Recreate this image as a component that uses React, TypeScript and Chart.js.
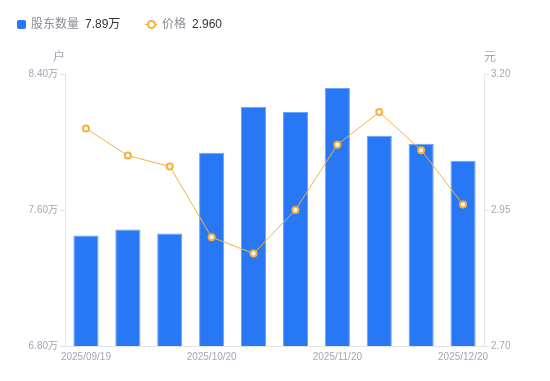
import React, { useEffect, useRef } from "react";
import { Chart, registerables } from "chart.js";

Chart.register(...registerables);

const dates = [
  "2025/09/19", "2025/09/30", "2025/10/10", "2025/10/20", "2025/10/31",
  "2025/11/10", "2025/11/20", "2025/11/30", "2025/12/10", "2025/12/20",
];
const holders = [7.45, 7.486, 7.462, 7.937, 8.207, 8.177, 8.318, 8.037, 7.99, 7.89];
const prices = [3.10, 3.05, 3.03, 2.90, 2.87, 2.95, 3.07, 3.13, 3.06, 2.96];
const leftTicks = [6.8, 7.6, 8.4];
const rightTicks = [2.7, 2.95, 3.2];

const BLUE = "#2878f5";
const ORANGE = "#f8b03c";
const TICK = "#a3a6b4";
const AXIS = "#e3e4e8";
const FONT = "Arial, 'Liberation Sans', 'Noto Sans CJK SC', sans-serif";

export default function App() {
  const ref = useRef<HTMLCanvasElement | null>(null);
  useEffect(() => {
    const ctx = ref.current!;
    const chart = new Chart(ctx, {
      type: "bar",
      data: {
        labels: dates,
        datasets: [
          {
            type: "line",
            label: "价格",
            data: prices,
            yAxisID: "y1",
            borderColor: ORANGE,
            borderWidth: 1,
            pointRadius: 3,
            pointBorderWidth: 2,
            pointBackgroundColor: "#ffffff",
            pointBorderColor: ORANGE,
            tension: 0,
            order: 0,
          } as any,
          {
            type: "bar",
            label: "股东数量",
            data: holders,
            yAxisID: "y",
            backgroundColor: BLUE,
            borderColor: "#6aa3fa",
            borderWidth: { top: 1, left: 1, right: 1, bottom: 0 },
            barPercentage: 0.6,
            categoryPercentage: 1,
            order: 1,
          } as any,
        ],
      },
      options: {
        animation: false,
        responsive: false,
        layout: { padding: { top: 74, bottom: 0, left: 0, right: 0 } },
        plugins: { legend: { display: false }, tooltip: { enabled: false } },
        scales: {
          x: {
            grid: { display: false, drawTicks: false },
            border: { color: AXIS },
            ticks: {
              autoSkip: false,
              maxRotation: 0,
              color: TICK,
              font: { size: 10, family: FONT },
              padding: 5,
              callback: (_v: any, i: number) => (i % 3 === 0 ? dates[i] : ""),
            },
            afterFit: (s: any) => { s.height = 35; },
          },
          y: {
            position: "left",
            min: 6.8,
            max: 8.4,
            afterBuildTicks: (s: any) => { s.ticks = leftTicks.map((v) => ({ value: v })); },
            grid: { drawOnChartArea: false, drawTicks: true, tickLength: 5, color: AXIS },
            border: { color: AXIS },
            ticks: {
              color: TICK,
              font: { size: 10, family: FONT },
              padding: 2,
              callback: (v: any) => Number(v).toFixed(2) + "万",
            },
            afterFit: (s: any) => { s.width = 65; },
          },
          y1: {
            position: "right",
            min: 2.7,
            max: 3.2,
            afterBuildTicks: (s: any) => { s.ticks = rightTicks.map((v) => ({ value: v })); },
            grid: { drawOnChartArea: false, drawTicks: true, tickLength: 5, color: AXIS },
            border: { color: AXIS },
            ticks: {
              color: TICK,
              font: { size: 10, family: FONT },
              padding: 2,
              callback: (v: any) => Number(v).toFixed(2),
            },
            afterFit: (s: any) => { s.width = 66; },
          },
        },
      } as any,
    });
    return () => chart.destroy();
  }, []);

  const txt: React.CSSProperties = {
    position: "absolute",
    fontFamily: FONT,
    fontSize: 12,
    lineHeight: "14px",
    whiteSpace: "nowrap",
  };

  return (
    <div style={{ position: "absolute", left: 0, top: 0, width: 550, height: 381, background: "#fff" }}>
      <canvas ref={ref} width={550} height={381} style={{ position: "absolute", left: 0, top: 0 }} />
      <div style={{ position: "absolute", left: 17, top: 20, width: 9, height: 9, borderRadius: 2, background: BLUE }} />
      <div style={{ ...txt, left: 31, top: 17, color: "#8a8d96" }}>股东数量</div>
      <div style={{ ...txt, left: 85, top: 17, color: "#333" }}>7.89万</div>
      <div style={{ position: "absolute", left: 145, top: 24, width: 12, height: 1, background: ORANGE }} />
      <div style={{ position: "absolute", left: 147, top: 20, width: 5, height: 5, borderRadius: "50%", border: `2px solid ${ORANGE}`, background: "#fff" }} />
      <div style={{ ...txt, left: 162, top: 17, color: "#8a8d96" }}>价格</div>
      <div style={{ ...txt, left: 192, top: 17, color: "#333" }}>2.960</div>
      <div style={{ ...txt, left: 53, top: 50, color: TICK }}>户</div>
      <div style={{ ...txt, left: 484, top: 50, color: TICK }}>元</div>
    </div>
  );
}
